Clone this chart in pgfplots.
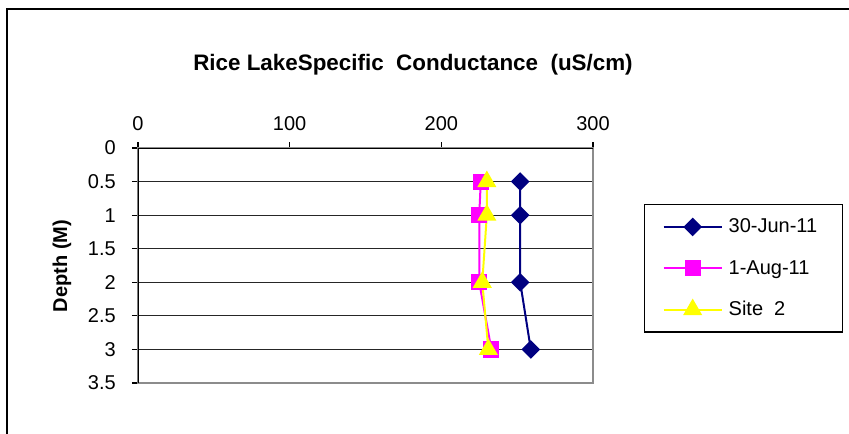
\documentclass[border=0pt]{standalone}
\usepackage{fontspec}
\setmainfont{Liberation Sans}
\usepackage{pgfplots}
\pgfplotsset{compat=1.18}
\definecolor{navyline}{RGB}{0,0,128}
\definecolor{magline}{RGB}{255,0,255}
\definecolor{yelline}{RGB}{255,255,0}
\begin{document}
\begin{tikzpicture}[x=0.75pt,y=-0.75pt]
\useasboundingbox (0,0) rectangle (849,433);
% outer chart frame (cropped at right and bottom)
\draw[line width=1.5pt] (7,445) -- (7,9) -- (860,9);
\coordinate (PA) at (138,148);
% these are taken relative to the axis origin PA
\coordinate (TT) at (275,-75);
\coordinate (YL) at (-76,118);
\coordinate (LG) at (506,56);
\begin{axis}[
  at={(PA)}, anchor=north west,
  width=341.25pt, height=176.25pt, scale only axis,
  xmin=0, xmax=300, ymin=0, ymax=3.5,
  y dir=reverse,
  xtick={0,100,200,300},
  ytick={0,0.5,1,1.5,2,2.5,3,3.5},
  xtick pos=right, ytick pos=left,
  xticklabel pos=right,
  tick align=outside,
  major tick length=4.5pt,
  tick style={black, line width=0.9pt},
  tick label style={font=\fontsize{15}{18}\selectfont, inner sep=0pt},
  /pgf/number format/assume math mode=true,
  xticklabel shift=8.5pt,
  yticklabel shift=12pt,
  ymajorgrids,
  major grid style={black!85, line width=0.9pt},
  axis line style={draw=black!45, line width=1.5pt},
  title={Rice LakeSpecific\ \ Conductance\ \ (uS/cm)},
  title style={at={(TT)}, anchor=center, font=\bfseries\fontsize{16.8}{20}\selectfont},
  ylabel={Depth (M)},
  ylabel style={at={(YL)}, anchor=center, font=\bfseries\fontsize{15}{18}\selectfont},
  legend cell align=left,
  legend image code/.code={\draw[mark repeat=2,mark phase=2,#1] plot coordinates {(0pt,0pt) (21.75pt,0pt) (43.5pt,0pt)};},
  legend style={at={(LG)}, anchor=north west, draw=black, line width=1pt,
    font=\fontsize{15}{18}\selectfont,
    nodes={inner xsep=0pt, inner ysep=0pt, minimum height=31pt},
    row sep=0pt, column sep=4.5pt, inner xsep=13.5pt, inner ysep=1.2pt},
]
\draw[black, line width=1.5pt] (axis cs:0,3.5) -- (axis cs:0,0) -- (axis cs:300,0);
\addplot[color=navyline, line width=1.5pt, mark=square*, mark size=4.2pt, mark options={rotate=45, solid}]
  coordinates {(252,0.5) (252,1) (252,2) (259,3)};
\addlegendentry{\makebox[72pt][l]{30-Jun-11}}
\addplot[color=magline, line width=1.5pt, mark=square*, mark size=5.3pt, mark options={solid}]
  coordinates {(226,0.5) (225,1) (225,2) (233,3)};
\addlegendentry{\makebox[72pt][l]{1-Aug-11}}
\addplot[color=yelline, line width=1.5pt, mark=triangle*, mark size=6.8pt, mark options={solid}]
  coordinates {(230,0.5) (230,1) (227,2) (231,3)};
\addlegendentry{\makebox[72pt][l]{Site\ \ 2}}
\end{axis}
\end{tikzpicture}
\end{document}
